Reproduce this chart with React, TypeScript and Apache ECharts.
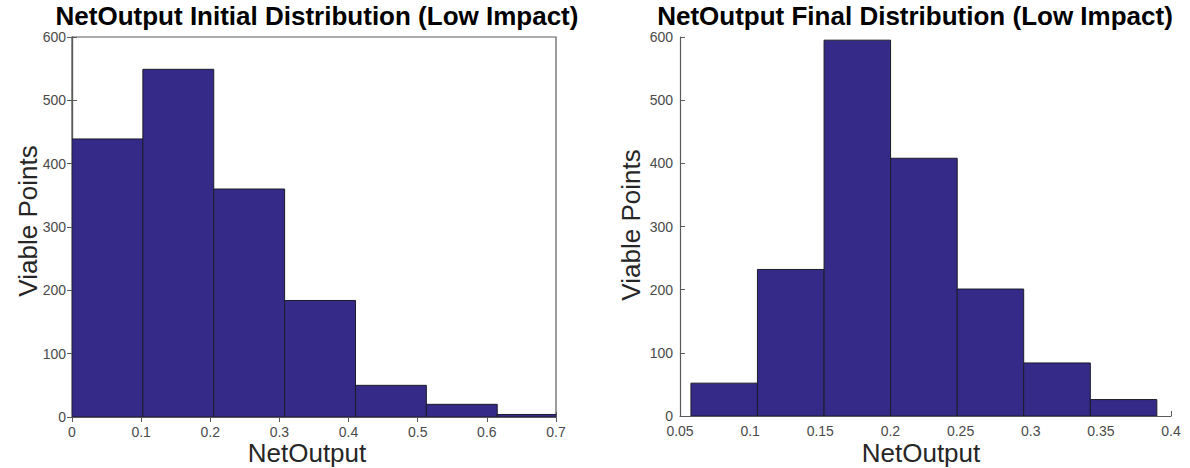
import React, { useEffect, useRef } from "react";
import * as echarts from "echarts";

// Histogram bin edges and counts for each panel
const initialEdges = [0, 0.1025, 0.205, 0.3075, 0.41, 0.5125, 0.615, 0.7175];
const initialCounts = [439, 549, 360, 184, 50, 20, 4];

const finalEdges = [0.0578, 0.1052, 0.1527, 0.2001, 0.2476, 0.295, 0.3425, 0.3899];
const finalCounts = [52, 232, 595, 408, 201, 84, 26];

const initialTitle = "NetOutput Initial Distribution (Low Impact)";
const finalTitle = "NetOutput Final Distribution (Low Impact)";
const xName = "NetOutput";
const yName = "Viable Points";

const BAR_FILL = "#352a87";
const BAR_EDGE = "#1c1c2a";
const AXIS_COLOR = "#5a5a5a";
const LABEL_COLOR = "#4a4a4a";
const FONT = "Liberation Sans, Arial, sans-serif";

function binsOf(edges: number[], counts: number[]) {
  return counts.map((c, i) => [edges[i], edges[i + 1], c]);
}

const fmt = (v: number) => String(parseFloat(v.toFixed(3)));

function histSeries(xi: number, yi: number, data: number[][]) {
  return {
    type: "custom",
    xAxisIndex: xi,
    yAxisIndex: yi,
    clip: true,
    data,
    encode: { x: [0, 1], y: 2 },
    renderItem: (params: any, api: any) => {
      const x0 = api.value(0);
      const x1 = api.value(1);
      const c = api.value(2);
      const p0 = api.coord([x0, c]);
      const p1 = api.coord([x1, 0]);
      return {
        type: "rect",
        shape: { x: p0[0], y: p0[1], width: p1[0] - p0[0], height: p1[1] - p0[1] },
        style: { fill: BAR_FILL, stroke: BAR_EDGE, lineWidth: 1 },
      };
    },
  };
}

const tickStyle = { show: true, inside: true, length: 5, lineStyle: { color: AXIS_COLOR, width: 1 } };
const lineStyle = { show: true, lineStyle: { color: AXIS_COLOR, width: 1.2 } };
const labelStyle = { color: LABEL_COLOR, fontSize: 14, fontFamily: FONT };

export default function App() {
  const ref = useRef<HTMLDivElement>(null);

  useEffect(() => {
    document.body.style.margin = "0";
    if (!ref.current) return;
    const chart = echarts.init(ref.current, null, { renderer: "svg" });

    const titleFont = `bold 26px ${FONT}`;
    const nameFont = `26px ${FONT}`;

    const option: any = {
      animation: false,
      backgroundColor: "#ffffff",
      grid: [
        { left: 72, top: 37, width: 484, height: 380, show: true, borderColor: AXIS_COLOR, borderWidth: 1.2, backgroundColor: "transparent" },
        { left: 680, top: 37, width: 491, height: 379 },
      ],
      xAxis: [
        {
          type: "value", gridIndex: 0, position: "bottom", min: 0, max: 0.7, interval: 0.1,
          axisLine: lineStyle, axisTick: tickStyle, splitLine: { show: false },
          axisLabel: { ...labelStyle, margin: 8, formatter: fmt },
        },
        {
          type: "value", gridIndex: 0, position: "top", min: 0, max: 0.7, interval: 0.1,
          axisLine: lineStyle, axisTick: tickStyle, splitLine: { show: false },
          axisLabel: { show: false },
        },
        {
          type: "value", gridIndex: 1, position: "bottom", min: 0.05, max: 0.4, interval: 0.05,
          axisLine: lineStyle, axisTick: tickStyle, splitLine: { show: false },
          axisLabel: { ...labelStyle, margin: 8, formatter: fmt },
        },
      ],
      yAxis: [
        {
          type: "value", gridIndex: 0, position: "left", min: 0, max: 600, interval: 100,
          axisLine: lineStyle, axisTick: tickStyle, splitLine: { show: false },
          axisLabel: { ...labelStyle, margin: 6 },
        },
        {
          type: "value", gridIndex: 0, position: "right", min: 0, max: 600, interval: 100,
          axisLine: lineStyle, axisTick: tickStyle, splitLine: { show: false },
          axisLabel: { show: false },
        },
        {
          type: "value", gridIndex: 1, position: "left", min: 0, max: 600, interval: 100,
          axisLine: lineStyle, axisTick: tickStyle, splitLine: { show: false },
          axisLabel: { ...labelStyle, margin: 7 },
        },
      ],
      series: [
        histSeries(0, 0, binsOf(initialEdges, initialCounts)),
        histSeries(2, 2, binsOf(finalEdges, finalCounts)),
      ],
      graphic: [
        {
          type: "text", x: 317, y: 16,
          style: { text: initialTitle, align: "center", verticalAlign: "middle", font: titleFont, fill: "#000000" },
        },
        {
          type: "text", x: 915, y: 16,
          style: { text: finalTitle, align: "center", verticalAlign: "middle", font: titleFont, fill: "#000000" },
        },
        {
          type: "text", x: 28, y: 221, rotation: Math.PI / 2,
          style: { text: yName, align: "center", verticalAlign: "middle", font: nameFont, fill: "#262626" },
        },
        {
          type: "text", x: 631, y: 225, rotation: Math.PI / 2,
          style: { text: yName, align: "center", verticalAlign: "middle", font: nameFont, fill: "#262626" },
        },
        {
          type: "text", x: 307, y: 453,
          style: { text: xName, align: "center", verticalAlign: "middle", font: nameFont, fill: "#262626" },
        },
        {
          type: "text", x: 921, y: 453,
          style: { text: xName, align: "center", verticalAlign: "middle", font: nameFont, fill: "#262626" },
        },
      ],
    };

    chart.setOption(option);
    return () => chart.dispose();
  }, []);

  return <div ref={ref} style={{ width: 1190, height: 468 }} />;
}
